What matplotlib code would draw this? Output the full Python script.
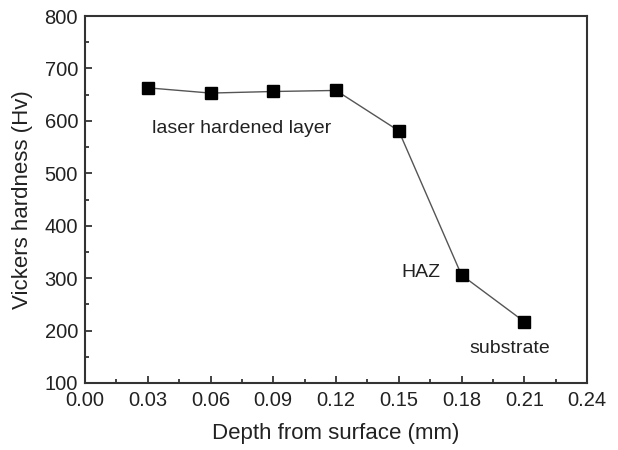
import matplotlib
matplotlib.use("Agg")
import matplotlib.pyplot as plt
from matplotlib.ticker import MultipleLocator

plt.rcParams['font.family'] = ['Liberation Sans', 'DejaVu Sans']

depth = [0.03, 0.06, 0.09, 0.12, 0.15, 0.18, 0.21]
hardness = [663, 653, 656, 658, 581, 306, 217]

x_ticks = [0.00, 0.03, 0.06, 0.09, 0.12, 0.15, 0.18, 0.21, 0.24]
y_ticks = [100, 200, 300, 400, 500, 600, 700, 800]

fig = plt.figure(figsize=(6.18, 4.5), dpi=100)
ax = fig.add_axes([85 / 618, 1 - 383 / 450, 502 / 618, 367 / 450])

ax.plot(depth, hardness, color='#555555', linewidth=1.0, marker='s',
        markersize=8.5, markerfacecolor='black', markeredgecolor='black')

ax.set_xlim(0.0, 0.24)
ax.set_ylim(100, 800)
ax.set_xticks(x_ticks)
ax.set_xticklabels([f"{v:.2f}" for v in x_ticks])
ax.set_yticks(y_ticks)
ax.xaxis.set_minor_locator(MultipleLocator(0.015))
ax.yaxis.set_minor_locator(MultipleLocator(50))

ax.tick_params(which='both', direction='in', top=False, right=False,
               labelsize=14.5, colors='#222222', width=1.2)
ax.tick_params(which='major', length=5)
ax.tick_params(axis='x', which='major', pad=6)
ax.tick_params(axis='y', which='major', pad=5)
ax.tick_params(which='minor', length=3)
for side in ax.spines.values():
    side.set_linewidth(1.5)
    side.set_color('#333333')

ax.set_xlabel('Depth from surface (mm)', fontsize=16, color='#222222', labelpad=9)
ax.set_ylabel('Vickers hardness (Hv)', fontsize=16, color='#222222', labelpad=8)

ax.text(0.075, 586, 'laser hardened layer', fontsize=14, ha='center', va='center', color='#222222')
ax.text(0.1606, 311, 'HAZ', fontsize=14, ha='center', va='center', color='#222222')
ax.text(0.203, 166, 'substrate', fontsize=14, ha='center', va='center', color='#222222')

fig.savefig('out.png', dpi=100)
